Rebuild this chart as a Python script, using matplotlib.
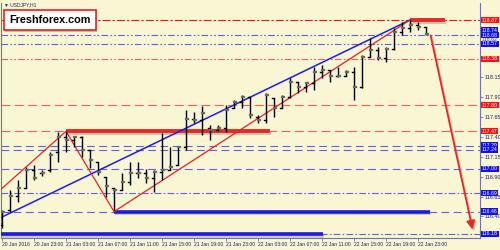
import matplotlib
matplotlib.use("Agg")
import matplotlib.pyplot as plt
import matplotlib.patheffects as pe

plt.rcParams["font.family"] = ["Liberation Sans", "DejaVu Sans"]

# USDJPY H1 bars (20 Jan 19:00 .. 23 Jan 00:00)
opens = [116.29, 116.48, 116.66, 116.76, 116.98, 116.95, 116.98, 117.21, 117.40, 117.36,
         117.40, 117.23, 117.08, 116.90, 116.76, 116.73, 116.83, 116.95, 116.95, 116.88,
         116.96, 116.98, 117.05, 117.27, 117.62, 117.61, 117.51, 117.49, 117.51, 117.76,
         117.84, 117.90, 117.65, 117.61, 117.89, 117.76, 117.90, 118.09, 118.03, 118.08,
         118.22, 118.24, 118.17, 118.17, 118.22, 118.03, 118.40, 118.49, 118.39, 118.51,
         118.72, 118.77, 118.81, 118.78]
highs = [116.48, 116.73, 116.86, 117.02, 117.05, 116.98, 117.21, 117.46, 117.47, 117.41,
         117.41, 117.23, 117.08, 116.90, 116.76, 116.95, 117.08, 117.08, 117.00, 116.98,
         117.45, 117.27, 117.29, 117.74, 117.71, 117.79, 117.55, 117.55, 117.80, 117.86,
         117.93, 117.90, 117.67, 117.95, 117.89, 117.93, 118.14, 118.09, 118.09, 118.28,
         118.30, 118.24, 118.28, 118.24, 118.28, 118.43, 118.64, 118.53, 118.53, 118.77,
         118.84, 118.87, 118.84, 118.78]
lows = [116.25, 116.45, 116.58, 116.76, 116.86, 116.91, 116.96, 117.08, 117.21, 117.27,
        117.15, 117.01, 116.92, 116.64, 116.48, 116.73, 116.79, 116.88, 116.82, 116.71,
        116.86, 116.98, 117.05, 117.23, 117.57, 117.42, 117.36, 117.47, 117.46, 117.76,
        117.76, 117.64, 117.57, 117.57, 117.65, 117.76, 117.89, 117.95, 117.96, 117.99,
        118.14, 118.09, 118.15, 118.17, 117.86, 118.01, 118.40, 118.37, 118.34, 118.49,
        118.68, 118.72, 118.74, 118.68]
closes = [116.45, 116.66, 116.76, 116.98, 116.88, 116.95, 117.17, 117.40, 117.36, 117.40,
          117.23, 117.11, 116.96, 116.78, 116.73, 116.83, 116.95, 116.95, 116.88, 116.96,
          116.98, 117.02, 117.27, 117.62, 117.61, 117.70, 117.49, 117.51, 117.74, 117.84,
          117.90, 117.67, 117.61, 117.93, 117.76, 117.90, 118.09, 118.03, 118.08, 118.22,
          118.24, 118.17, 118.17, 118.22, 118.03, 118.40, 118.49, 118.39, 118.51, 118.72,
          118.77, 118.81, 118.78, 118.69]

time_labels = ["20 Jan 2016", "20 Jan 23:00", "21 Jan 03:00", "21 Jan 07:00",
               "21 Jan 11:00", "21 Jan 15:00", "21 Jan 19:00", "21 Jan 23:00",
               "22 Jan 03:00", "22 Jan 07:00", "22 Jan 11:00", "22 Jan 15:00",
               "22 Jan 19:00", "22 Jan 23:00"]
# grid prices still visible next to the level boxes
price_ticks = [116.40, 116.65, 116.90, 117.15, 117.40, 117.65, 117.90, 118.15]

# horizontal levels
red_dashdot_levels = [118.87]
red_dashdotdot_levels = [118.38]
red_dashed_levels = [117.80, 117.47]
blue_dashdotdot_levels = [118.68, 118.57]
blue_dashed_levels = [117.29, 117.24, 117.00, 116.46]
blue_dashdot_levels = [116.69, 116.18]

red_boxes = [118.87, 118.38, 117.80, 117.47]
blue_boxes = [118.74, 118.68, 118.57, 117.29, 117.24, 117.00, 116.69, 116.46, 116.18]
grey_boxes = [118.62]

# zigzag / channel lines (bar index, price)
zigzag_x = [-0.25, 8, 14, 51]
zigzag_y = [116.73, 117.47, 116.46, 118.87]
blue_trend_x = [-0.25, 51]
blue_trend_y = [116.38, 118.87]
arrow_start = (53.5, 118.71)
arrow_end = (58.9, 116.20)

# thick support / resistance segments: (x0, x1, price)
red_segments = [(8, 33.5, 117.47), (51, 55.4, 118.87)]
blue_segments = [(14, 53.5, 116.46), (-0.25, 40.1, 116.18)]

bg = "#f8f6d3"
frame = "#7373a8"

fig = plt.figure(figsize=(5, 2.5), dpi=100, facecolor=bg)
ax = fig.add_axes([1 / 500, 12 / 250, 479 / 500, 235 / 250], facecolor=bg)
ax.set_xlim(-0.125, 59.75)
ax.set_ylim(116.128, 119.084)

for v in red_dashdot_levels:
    ax.axhline(v, color="#f01010", lw=0.8, dashes=(7, 2, 2, 2), zorder=1)
for v in red_dashdotdot_levels:
    ax.axhline(v, color="#f06060", lw=0.8, dashes=(6, 2, 1.5, 2, 1.5, 2), zorder=1)
for v in red_dashed_levels:
    ax.axhline(v, color="#f06060", lw=0.8, dashes=(8, 4), zorder=1)
for v in blue_dashdotdot_levels:
    ax.axhline(v, color="#6060e0", lw=0.8, dashes=(6, 2, 1.5, 2, 1.5, 2), zorder=1)
for v in blue_dashed_levels:
    ax.axhline(v, color="#6060e8", lw=0.8, dashes=(7, 4), zorder=1)
for v in blue_dashdot_levels:
    ax.axhline(v, color="#6060e0", lw=0.8, dashes=(6, 2, 1.5, 2), zorder=1)

shadow = [pe.SimpleLineShadow(offset=(0.8, -1.2), shadow_color="#b0a890", alpha=0.6), pe.Normal()]
for x0, x1, v in red_segments:
    ax.plot([x0, x1], [v, v], color="#e82828", lw=2.8, solid_capstyle="butt",
            path_effects=shadow, zorder=3)
for x0, x1, v in blue_segments:
    ax.plot([x0, x1], [v, v], color="#1c1ce0", lw=2.6, solid_capstyle="butt",
            path_effects=shadow, zorder=3)

ax.plot(blue_trend_x, blue_trend_y, color="#1c1cf0", lw=1.1, zorder=4)
ax.plot(zigzag_x, zigzag_y, color="#f02020", lw=0.9, zorder=4)

# OHLC bars
for i, (o, h, l, c) in enumerate(zip(opens, highs, lows, closes)):
    ax.plot([i, i], [l, h], color="black", lw=1.0, zorder=5, solid_capstyle="butt")
    ax.plot([i - 0.3, i], [o, o], color="black", lw=1.0, zorder=5)
    ax.plot([i, i + 0.3], [c, c], color="#6c6c5c", lw=1.6, zorder=5)

ax.annotate("", xy=arrow_end, xytext=arrow_start,
            arrowprops=dict(arrowstyle="-|>,head_length=0.5,head_width=0.25",
                            color="#e82828", lw=1.3,
                            path_effects=[pe.SimpleLineShadow(offset=(1, -1.2),
                                                              shadow_color="#b0a890",
                                                              alpha=0.6), pe.Normal()]),
            zorder=6)

# axes styling
ax.spines["top"].set_visible(False)
for s in ("left", "right", "bottom"):
    ax.spines[s].set_color(frame)
    ax.spines[s].set_linewidth(0.8)

ax.yaxis.tick_right()
ax.set_yticks(price_ticks)
ax.set_yticklabels([f"{v:.2f}" for v in price_ticks])
ax.tick_params(axis="y", length=2, width=0.6, color=frame, labelsize=4,
               labelcolor="#202060", pad=1)
ax.set_xticks(range(0, 4 * len(time_labels), 4))
ax.set_xticklabels(time_labels, ha="left")
ax.tick_params(axis="x", length=2, width=0.6, color=frame, labelsize=3.6,
               labelcolor="#202060", pad=1)


def price_box(v, fc, tc):
    ax.text(1.004, v, f"{v:.2f}", transform=ax.get_yaxis_transform(), fontsize=3.8,
            color=tc, ha="left", va="center", zorder=10, clip_on=False,
            bbox=dict(boxstyle="square,pad=0.12", fc=fc, ec="none"))


for v in grey_boxes:
    price_box(v, "#eeeeee", "#404060")
for v in red_boxes:
    price_box(v, "#ff1010", "white")
for v in blue_boxes:
    price_box(v, "#1010f0", "white")

fig.text(4 / 500, 1 - 5 / 250, "\u25bc USDJPY,H1", fontsize=3.5, color="#202060",
         ha="left", va="center")
fig.text(9 / 500, 1 - 20 / 250, "Freshforex.com", fontsize=7.8, fontweight="bold",
         color="black", ha="left", va="center", zorder=20,
         bbox=dict(boxstyle="square,pad=0.5", fc="white", ec="#e82020", lw=1.2,
                   path_effects=[pe.withSimplePatchShadow(offset=(1.2, -1.2),
                                                          shadow_rgbFace="#a09880",
                                                          alpha=0.6)]))

fig.savefig("out.png", dpi=100, facecolor=bg)
